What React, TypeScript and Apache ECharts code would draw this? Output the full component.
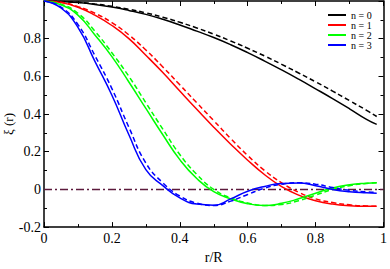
import React, { useEffect, useRef } from "react";
import * as echarts from "echarts";

const rValues = [0, 0.05, 0.1, 0.15, 0.2, 0.25, 0.3, 0.35, 0.4, 0.45, 0.5, 0.55, 0.6, 0.65, 0.7, 0.75, 0.8, 0.85, 0.9, 0.95, 0.98];

const n0Solid = [1, 0.998, 0.992, 0.982, 0.968, 0.95, 0.929, 0.903, 0.873, 0.84, 0.806, 0.768, 0.726, 0.681, 0.634, 0.585, 0.534, 0.482, 0.428, 0.372, 0.345];
const n0Dashed = [1, 0.998, 0.993, 0.984, 0.972, 0.956, 0.937, 0.914, 0.887, 0.857, 0.824, 0.788, 0.749, 0.708, 0.664, 0.618, 0.571, 0.522, 0.471, 0.42, 0.387];

const n1Solid = [1, 0.992, 0.967, 0.925, 0.87, 0.8, 0.712, 0.62, 0.522, 0.425, 0.33, 0.24, 0.155, 0.078, 0.015, -0.03, -0.06, -0.078, -0.087, -0.09, -0.09];
const n1Dashed = [1, 0.993, 0.97, 0.935, 0.885, 0.82, 0.74, 0.65, 0.555, 0.46, 0.365, 0.27, 0.18, 0.1, 0.035, -0.015, -0.05, -0.07, -0.082, -0.088, -0.09];

const n2Solid = [1, 0.98, 0.925, 0.82, 0.705, 0.57, 0.43, 0.29, 0.158, 0.058, -0.012, -0.05, -0.076, -0.085, -0.074, -0.05, -0.02, 0.008, 0.025, 0.033, 0.035];
const n2Dashed = [1, 0.983, 0.935, 0.84, 0.725, 0.6, 0.46, 0.32, 0.185, 0.08, 0.0, -0.045, -0.072, -0.085, -0.08, -0.06, -0.03, 0.0, 0.02, 0.032, 0.036];

const n3Solid = [1, 0.963, 0.86, 0.68, 0.5, 0.29, 0.105, 0.02, -0.045, -0.078, -0.084, -0.05, -0.01, 0.016, 0.032, 0.034, 0.02, 0.0, -0.012, -0.018, -0.02];
const n3Dashed = [1, 0.968, 0.875, 0.71, 0.535, 0.33, 0.14, 0.035, -0.035, -0.073, -0.085, -0.062, -0.027, 0.007, 0.028, 0.035, 0.028, 0.01, -0.005, -0.013, -0.016];

const legendNames = ["n = 0", "n = 1", "n = 2", "n = 3"];
const colors = ["#000000", "#ff0000", "#00ff00", "#0000ff"];
const solidSets = [n0Solid, n1Solid, n2Solid, n3Solid];
const dashedSets = [n0Dashed, n1Dashed, n2Dashed, n3Dashed];
const zeroLine = [[0, 0], [1, 0]];

const FONT = "Liberation Serif";

export default function App() {
  const ref = useRef<HTMLDivElement>(null);
  useEffect(() => {
    if (!ref.current) return;
    const chart = echarts.init(ref.current, undefined, { renderer: "svg" });
    const pairs = (vals: number[]) => rValues.map((r, i) => [r, vals[i]]);
    const series: any[] = [];
    series.push({
      name: "zero",
      type: "line",
      data: zeroLine,
      symbol: "none",
      lineStyle: { color: "#5c1a3c", width: 1.5, type: [8, 3, 2, 3] },
      silent: true,
    });
    solidSets.forEach((vals, i) => {
      series.push({
        name: legendNames[i],
        type: "line",
        data: pairs(vals),
        symbol: "none",
        smooth: 0.5,
        lineStyle: { color: colors[i], width: 1.5 },
        itemStyle: { color: colors[i] },
      });
      series.push({
        name: legendNames[i] + " dashed",
        type: "line",
        data: pairs(dashedSets[i]),
        symbol: "none",
        smooth: 0.5,
        lineStyle: { color: colors[i], width: 1.5, type: [5, 3] },
        itemStyle: { color: colors[i] },
      });
    });
    const axisLine = { show: true, onZero: false, lineStyle: { color: "#000", width: 1.5 } };
    const tick = { show: true, inside: true, length: 5, lineStyle: { color: "#000", width: 1 } };
    const minor = { show: true, splitNumber: 2, length: 3, lineStyle: { color: "#000", width: 1 } };
    chart.setOption({
      animation: false,
      textStyle: { fontFamily: FONT },
      grid: { left: 44, right: 2, top: 1, bottom: 28 },
      legend: {
        data: legendNames.map((n) => ({ name: n, icon: "rect" })),
        orient: "vertical",
        left: 328,
        top: 10,
        itemWidth: 18,
        itemHeight: 2,
        itemGap: 0,
        textStyle: { fontFamily: FONT, fontSize: 10, color: "#000", lineHeight: 10, padding: [0, 0, 0, 0] },
        padding: 0,
      },
      xAxis: [
        {
          type: "value",
          min: 0,
          max: 1,
          interval: 0.2,
          axisLine,
          axisTick: tick,
          minorTick: minor,
          splitLine: { show: false },
          axisLabel: {
            fontFamily: FONT,
            fontSize: 14,
            color: "#000",
            margin: 4,
            formatter: (v: number) => String(+v.toFixed(1)),
          },
          name: "r/R",
          nameLocation: "middle",
          nameGap: 20,
          nameTextStyle: { fontFamily: FONT, fontSize: 14, color: "#000" },
        },
        {
          type: "value",
          position: "top",
          min: 0,
          max: 1,
          interval: 0.2,
          axisLine,
          axisTick: tick,
          minorTick: minor,
          splitLine: { show: false },
          axisLabel: { show: false },
        },
      ],
      yAxis: [
        {
          type: "value",
          min: -0.2,
          max: 1,
          interval: 0.2,
          axisLine,
          axisTick: tick,
          minorTick: minor,
          splitLine: { show: false },
          axisLabel: {
            fontFamily: FONT,
            fontSize: 14,
            color: "#000",
            margin: 3,
            formatter: (v: number) => (Math.abs(v - 1) < 1e-6 ? "" : String(+v.toFixed(1))),
          },
        },
        {
          type: "value",
          position: "right",
          min: -0.2,
          max: 1,
          interval: 0.2,
          axisLine,
          axisTick: tick,
          minorTick: minor,
          splitLine: { show: false },
          axisLabel: { show: false },
        },
      ],
      graphic: [
        {
          type: "text",
          x: 8,
          y: 124,
          rotation: Math.PI / 2,
          style: {
            text: "ξ (r)",
            fontFamily: FONT,
            fontSize: 13,
            fill: "#000",
            align: "center",
            verticalAlign: "middle",
          },
        },
      ],
      series,
    });
    return () => chart.dispose();
  }, []);
  return <div ref={ref} style={{ width: 390, height: 269, position: "absolute", left: 0, top: 0 }} />;
}
